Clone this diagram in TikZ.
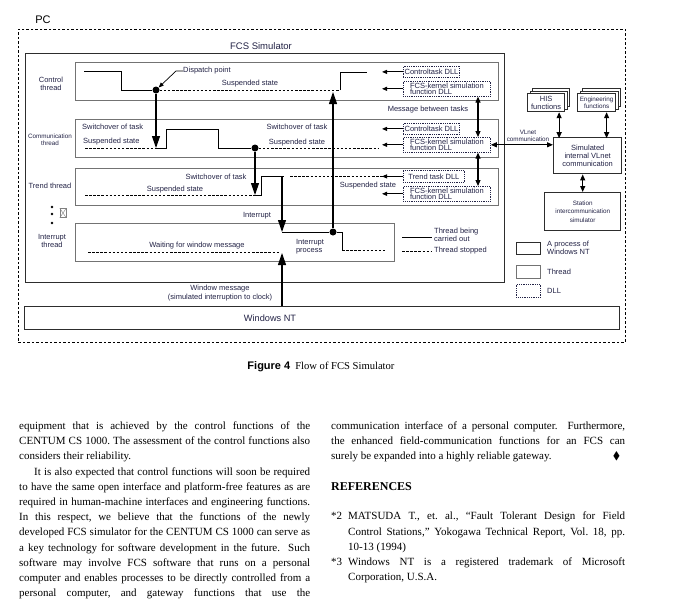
\documentclass[tikz,border=0pt]{standalone}
\usepackage{amssymb}
\usepackage{fontspec}
\setmainfont{Liberation Serif}
\setsansfont{Liberation Sans}
\usetikzlibrary{arrows.meta,calc}
\definecolor{ink}{RGB}{35,35,70}
\definecolor{procline}{RGB}{45,45,45}
\definecolor{threadline}{RGB}{115,115,115}
\newcommand{\diagfont}{\sffamily\fontsize{7.5}{8.3}\selectfont}
\newcommand{\dllfont}{\sffamily\fontsize{7.5}{6.9}\selectfont}
\newcommand{\commfont}{\sffamily\fontsize{6.3}{7.3}\selectfont}
\newcommand{\bodyfont}{\rmfamily\fontsize{11}{15.2}\selectfont\frenchspacing\hyphenpenalty=10000\exhyphenpenalty=10000}
\tikzset{
  procbox/.style={draw=procline,line width=1.4pt,anchor=north west,inner sep=0pt,
    align=center,font=\diagfont,text=ink},
  threadbox/.style={draw=threadline,line width=1.3pt,anchor=north west,inner sep=0pt},
  dllbox/.style={draw=ink,densely dotted,line width=0.8pt,anchor=north west,
    inner sep=1.2pt,align=left,font=\dllfont,text=ink},
  stackbox/.style={procbox,fill=white,line width=1.2pt},
  lab/.style={font=\diagfont,text=ink,inner sep=0pt,align=center},
  run/.style={line width=0.9pt,black},
  stopline/.style={line width=0.9pt,dash pattern=on 2.5pt off 1.6pt},
  flow/.style={line width=1.1pt,-{Triangle[length=12pt,width=8pt]}},
  feed/.style={line width=0.9pt,-{Triangle[length=5pt,width=4pt]}},
  pointer/.style={line width=0.7pt,-{Triangle[length=5pt,width=4pt]}},
  dual/.style={line width=1.1pt,{Triangle[length=6pt,width=5pt]}-{Triangle[length=6pt,width=5pt]}},
  dot/.style={circle,fill=black,inner sep=0pt,minimum size=7pt},
  pcline/.style={line width=0.8pt,dash pattern=on 2.5pt off 2pt},
  body/.style={font=\bodyfont,anchor=north west,inner sep=0pt,align=justify}
}
\begin{document}
\begin{tikzpicture}[x=1pt,y=-1pt]
  \useasboundingbox[fill=white] (0,0) rectangle (685,613);
  \node[pcline,draw,anchor=north west,minimum width=607,minimum height=313] (pc) at (18,29) {};
  \node[font=\sffamily\fontsize{11}{12}\selectfont,inner sep=0pt] (pclab) at (43,20) {PC};
  \node[procbox,minimum width=479,minimum height=229] (fcs) at (25,53) {};
  \node[lab,font=\sffamily\fontsize{9.5}{11}\selectfont] (fcslab) at (261,46) {FCS Simulator};
  \node[procbox,minimum width=595,minimum height=23] (nt) at (24,306) {};
  \node[lab,font=\sffamily\fontsize{9.2}{11}\selectfont] (ntlab) at (270,318) {Windows NT};
  \node[threadbox,minimum width=423,minimum height=38] (ctl) at (75,62) {};
  \node[threadbox,minimum width=423,minimum height=38] (com) at (75,119) {};
  \node[threadbox,minimum width=423,minimum height=37] (trd) at (75,168) {};
  \node[threadbox,minimum width=319,minimum height=38] (irq) at (75,223) {};
  \node[lab] (ctllab) at (51,84) {Control\\thread};
  \node[lab,font=\commfont] (comlab) at (50,140) {Communication\\thread};
  \node[lab] (trdlab) at (50,186) {Trend thread};
  \node[lab] (irqlab) at (52,241) {Interrupt\\thread};
  \foreach \yy in {207,214,223} \fill (52,\yy) circle (1.3pt);
  \node[draw=gray,inner sep=0pt,minimum width=6pt,minimum height=9pt] (xbox) at (63,213) {};
  \draw[gray] (xbox.north west) -- (xbox.south east) (xbox.north east) -- (xbox.south west);
  \node[dllbox,minimum width=54,minimum height=11] (c1) at (403,66) {Controltask DLL};
  \node[dllbox,minimum width=87] (c2) at (403,81) {FCS-kernel simulation\\function DLL};
  \node[dllbox,minimum width=54,minimum height=11] (m1) at (403,123) {Controltask DLL};
  \node[dllbox,minimum width=87] (m2) at (403,137) {FCS-kernel simulation\\function DLL};
  \node[dllbox,minimum width=61,minimum height=12] (t1) at (403,170) {Trend task DLL};
  \node[dllbox,minimum width=87] (t2) at (403,186) {FCS-kernel simulation\\function DLL};
  \foreach \d in {c1,c2,m1,m2,t1,t2} \draw[feed] (\d.west) -- ++(-21,0);
  \coordinate (kx) at (478,0);
  \draw[dual] (c2.south -| kx) -- (m2.north -| kx);
  \draw[dual] (m2.south -| kx) -- (t2.north -| kx);
  \node[lab] (msglab) at (428,110) {Message between tasks};
  \node[stackbox,minimum width=37,minimum height=18] at (532,88) {};
  \node[stackbox,minimum width=37,minimum height=18] at (529.5,90.5) {};
  \node[stackbox,minimum width=37,minimum height=18] (his) at (527,93) {HIS\\functions};
  \node[stackbox,minimum width=38,minimum height=18] at (582,88) {};
  \node[stackbox,minimum width=38,minimum height=18] at (579.5,90.5) {};
  \node[stackbox,minimum width=38,minimum height=18,font=\commfont] (eng) at (577,93) {Engineering\\functions};
  \node[procbox,minimum width=68,minimum height=36] (vl) at (553,137) {Simulated\\internal VLnet\\communication};
  \node[procbox,minimum width=76,minimum height=38,font=\commfont] (sta) at (544,192) {Station\\[1pt]intercommunication\\[1pt]simulator};
  \draw[dual] ($(his.south)+(13,0)$) -- ($(his.south)+(13,26)$);
  \draw[dual] ($(eng.south)+(10,0)$) -- ($(eng.south)+(10,26)$);
  \draw[dual] (sta.north |- vl.south) -- (sta.north);
  \draw[dual] (m2.east) -- (m2.east -| vl.west);
  \node[lab,font=\commfont] (vlnlab) at (528,136) {VLnet\\communication};
  \node[dot] (dp) at (156,90) {};
  \node[dot] (cd) at (255,148) {};
  \node[dot] (id) at (333,232) {};
  \draw[run] (84,71) -- (121,71) -- (121,90) -- (dp);
  \draw[stopline] (dp) -- (340,90);
  \draw[run] (340,90) -- (340,72) -- (367,72);
  \node[lab,anchor=west] (dplab) at (183,71) {Dispatch point};
  \draw[pointer] (dplab.west) -- ++(-7,0) -- (dp);
  \node[lab] at (250,84) {Suspended state};
  \draw[stopline] (85,148) -- (155,148);
  \draw[run] (155,148) -- (166,148) -- (166,129) -- (218,129) -- (218,148) -- (cd);
  \draw[stopline] (cd) -- (378,148);
  \node[lab,anchor=west] at (82,127) {Switchover of task};
  \node[lab,anchor=west] at (83,142) {Suspended state};
  \node[lab] at (297,127) {Switchover of task};
  \node[lab] at (297,143) {Suspended state};
  \draw[stopline] (85,195) -- (255,195);
  \draw[run] (255,195) -- (261,195) -- (261,176) -- (284,176);
  \draw[stopline] (290,176) -- (383,176);
  \node[lab] at (216,177) {Switchover of task};
  \node[lab] at (175,190) {Suspended state};
  \node[lab] at (368,186) {Suspended state};
  \node[lab] at (257,216) {Interrupt};
  \draw[stopline] (88,252) -- (280,252);
  \node[lab] at (197,246) {Waiting for window message};
  \draw[run] (282,232) -- (id) -- (342,232) -- (342,250);
  \draw[stopline] (342,250) -- (385,250);
  \node[lab,align=left] at (310,247) {Interrupt\\process};
  \draw[flow] (dp) -- (156,148);
  \draw[flow] (cd) -- (255,195);
  \draw[flow] (282,176) -- (282,232);
  \draw[flow] (id) -- (333,92);
  \draw[flow] (nt.north -| 282,0) -- (282,253);
  \node[lab] at (220,293) {Window message\\(simulated interruption to clock)};
  \draw[run] (402,237) -- (432,237);
  \node[lab,anchor=west,align=left] at (434,235) {Thread being\\carried out};
  \draw[stopline] (402,251) -- (432,251);
  \node[lab,anchor=west] at (434,251) {Thread stopped};
  \node[procbox,minimum width=24,minimum height=12] (lp) at (516,242) {};
  \node[threadbox,minimum width=24,minimum height=13] (lt) at (516,265) {};
  \node[dllbox,inner sep=0pt,minimum width=24,minimum height=13] (ld) at (516,284) {};
  \node[lab,anchor=west,align=left] at (547,248) {A process of\\Windows NT};
  \node[lab,anchor=west] at (547,272) {Thread};
  \node[lab,anchor=west] at (547,291) {DLL};
  \node[anchor=base,inner sep=0pt] (cap) at (321,369)
    {\sffamily\bfseries\fontsize{11}{12}\selectfont Figure 4\hspace{5pt}\rmfamily\mdseries\fontsize{10.6}{12}\selectfont Flow of FCS Simulator};
  \node[body,text width=291pt] (leftcol) at (19,421.5) {equipment that is achieved by the control functions of the\linebreak
    CENTUM CS 1000. The assessment of the control functions also\linebreak
    considers their reliability.\par
    \hspace*{15pt}It is also expected that control functions will soon be required\linebreak
    to have the same open interface and platform-free features as are\linebreak
    required in human-machine interfaces and engineering functions.\linebreak
    In this respect, we believe that the functions of the newly\linebreak
    developed FCS simulator for the CENTUM CS 1000 can serve as\linebreak
    a key technology for software development in the future.\ \ Such\linebreak
    software may involve FCS software that runs on a personal\linebreak
    computer and enables processes to be directly controlled from a\linebreak
    personal computer, and gateway functions that use the{\parfillskip=0pt\par}};
  \node[body,text width=294pt] (rightcol) at (331,421.5) {communication interface of a personal computer.\ \ Furthermore,\linebreak
    the enhanced field-communication functions for an FCS can\linebreak
    surely be expanded into a highly reliable gateway.\hfill$\blacklozenge$\hspace*{5pt}\par};
  \node[font=\rmfamily\bfseries\fontsize{12}{14}\selectfont,anchor=base west,inner sep=0pt] (refhead) at (331,490) {REFERENCES};
  \node[body,text width=294pt] (refs) at (331,512) {\hangindent=17pt\hangafter=1\makebox[17pt][l]{*2}MATSUDA T., et. al., “Fault Tolerant Design for Field\linebreak
    Control Stations,” Yokogawa Technical Report, Vol. 18, pp.\linebreak
    10-13 (1994)\par
    \hangindent=17pt\hangafter=1\makebox[17pt][l]{*3}Windows NT is a registered trademark of Microsoft\linebreak
    Corporation, U.S.A.\par};
\end{tikzpicture}
\end{document}
